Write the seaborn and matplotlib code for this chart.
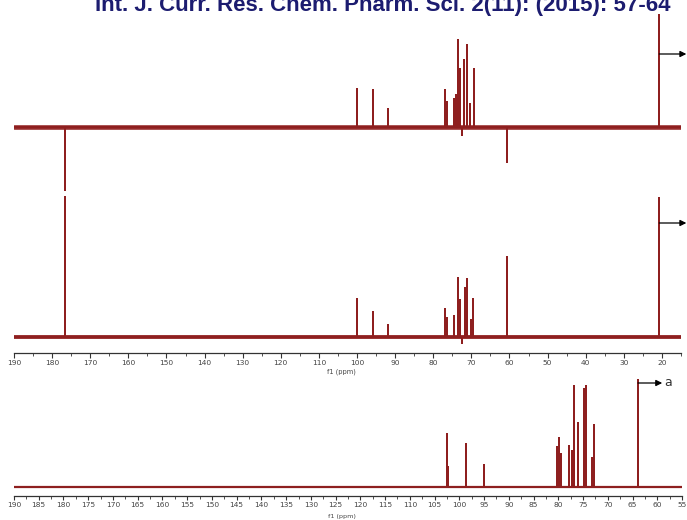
import numpy as np
import pandas as pd
import matplotlib
matplotlib.use("Agg")
import matplotlib.pyplot as plt
from matplotlib.ticker import MultipleLocator
import seaborn as sns

sns.set_theme(style="white")
plt.rcParams['font.family'] = ['DejaVu Sans']

TITLE = "Int. J. Curr. Res. Chem. Pharm. Sci. 2(11): (2015): 57-64"

# ---- data (ppm, relative intensity) ----
# top panel: DEPT-135 type spectrum
dept_ppm = [176.6, 100.0, 95.8, 91.8, 76.9, 76.35, 74.5, 74.0, 73.5, 72.9, 72.4,
            71.9, 71.1, 70.3, 69.3, 60.6, 20.7]
dept_int = [-63, 38, 37, 18, 37, 25, 28, 32, 87, 58, -8,
            67, 82, 23, 58, -35, 112]

# middle panel: 13C spectrum
c13_ppm = [176.6, 100.0, 95.8, 91.8, 76.9, 76.35, 74.5, 73.5, 72.9, 72.4,
           71.6, 71.1, 70.05, 69.5, 60.6, 20.7]
c13_int = [140, 38, 25, 12, 28, 19, 21, 59, 37, -6,
           49, 58, 17, 38, 80, 139]

# bottom panel: spectrum "a"
a_ppm = [102.55, 102.3, 98.7, 95.1, 80.2, 79.8, 79.4, 77.8, 77.2, 76.8, 76.0,
         74.75, 74.35, 73.1, 72.7, 63.9]
a_int = [53, 20, 43, 22, 40, 49, 33, 41, 36, 101, 64,
         98, 101, 29, 62, 107]

top_ticks = list(range(190, 19, -10))
bot_ticks = list(range(190, 54, -5))

W, H = 687, 520
RED = "#8e1f1f"


def sticks(ppm, inten, hi, lo):
    xs, ys = [hi], [0.0]
    for p, h in sorted(zip(ppm, inten), reverse=True):
        xs += [p, p, p]
        ys += [0.0, h, 0.0]
    xs.append(lo)
    ys.append(0.0)
    return pd.DataFrame({"ppm": xs, "int": ys})


def ax_px(left, top, right, bottom):
    return fig.add_axes([left / W, 1 - bottom / H, (right - left) / W, (bottom - top) / H])


fig = plt.figure(figsize=(W / 100, H / 100), dpi=100)
fig.patch.set_facecolor("white")

# panel 1
ax1 = ax_px(14, 12, 681, 200)
ax1.set_facecolor("none")
base1 = pd.DataFrame({"ppm": [190, 14.6], "int": [0, 0]})
sns.lineplot(data=base1, x="ppm", y="int", ax=ax1, color="#962a2a", lw=3.3, sort=False, estimator=None)
df1 = sticks(dept_ppm, dept_int, 190, 14.6)
sns.lineplot(data=df1, x="ppm", y="int", ax=ax1, color=RED, lw=1.4, sort=False, estimator=None)
ax1.set_xlim(190, 15)
ax1.set_ylim(-73, 115)
ax1.axis("off")

# panel 2
ax2 = ax_px(14, 195, 681, 353)
ax2.set_facecolor("none")
base2 = pd.DataFrame({"ppm": [190, 14.6], "int": [0, 0]})
sns.lineplot(data=base2, x="ppm", y="int", ax=ax2, color="#962a2a", lw=2.8, sort=False, estimator=None)
df2 = sticks(c13_ppm, c13_int, 190, 14.6)
sns.lineplot(data=df2, x="ppm", y="int", ax=ax2, color=RED, lw=1.4, sort=False, estimator=None)
ax2.set_xlim(190, 15)
ax2.set_ylim(-16, 142)

# panel 3
ax3 = ax_px(14, 375, 682, 496)
ax3.set_facecolor("none")
base3 = pd.DataFrame({"ppm": [190, 55], "int": [0, 0]})
sns.lineplot(data=base3, x="ppm", y="int", ax=ax3, color=RED, lw=1.6, sort=False, estimator=None)
df3 = sticks(a_ppm, a_int, 190, 55)
sns.lineplot(data=df3, x="ppm", y="int", ax=ax3, color=RED, lw=1.4, sort=False, estimator=None)
ax3.set_xlim(190, 55)
ax3.set_ylim(-9, 112)

for ax, ticks, minor, tl in ((ax2, top_ticks, 5, 3.5), (ax3, bot_ticks, 2.5, 3.0)):
    for s in ("left", "right", "top"):
        ax.spines[s].set_visible(False)
    ax.spines["bottom"].set_visible(True)
    ax.spines["bottom"].set_color("#333333")
    ax.spines["bottom"].set_linewidth(0.9)
    ax.set_yticks([])
    ax.set_xticks(ticks)
    ax.set_xticklabels([str(t) for t in ticks])
    ax.xaxis.set_minor_locator(MultipleLocator(minor))
    ax.tick_params(axis="x", which="major", direction="out", length=tl, width=0.8,
                   color="#333333", labelsize=5.4, labelcolor="#444444", pad=1.2, bottom=True)
    ax.tick_params(axis="x", which="minor", direction="out", length=1.8, width=0.6,
                   color="#333333", bottom=True)
    ax.set_xlabel("")
    ax.set_ylabel("")
    ax.grid(False)

# arrows marking the off-scale peaks
arrow = dict(arrowstyle="-|>", color="black", lw=0.9, mutation_scale=9, shrinkA=0, shrinkB=0)
ax1.annotate("", xy=(13.6, 73), xytext=(20.7, 73), arrowprops=arrow, annotation_clip=False)
ax2.annotate("", xy=(13.6, 114), xytext=(20.7, 114), arrowprops=arrow, annotation_clip=False)
ax3.annotate("", xy=(59.0, 104), xytext=(63.9, 104), arrowprops=arrow, annotation_clip=False)
ax3.text(58.6, 104, "a", fontsize=9, color="#333333", va="center", ha="left", clip_on=False)

# axis titles
fig.text(341 / W, 1 - 372 / H, "f1 (ppm)", fontsize=4.8, color="#444444", ha="center", va="center")
fig.text(342 / W, 1 - 516.5 / H, "f1 (ppm)", fontsize=4.6, color="#444444", ha="center", va="center")

# header
fig.text(383 / W, 1 - 11 / H, TITLE, fontsize=16, fontweight="bold", color="#1c1c70",
         ha="center", va="baseline", family=["Liberation Sans", "DejaVu Sans"])

fig.savefig("out.png", dpi=100, facecolor="white")
